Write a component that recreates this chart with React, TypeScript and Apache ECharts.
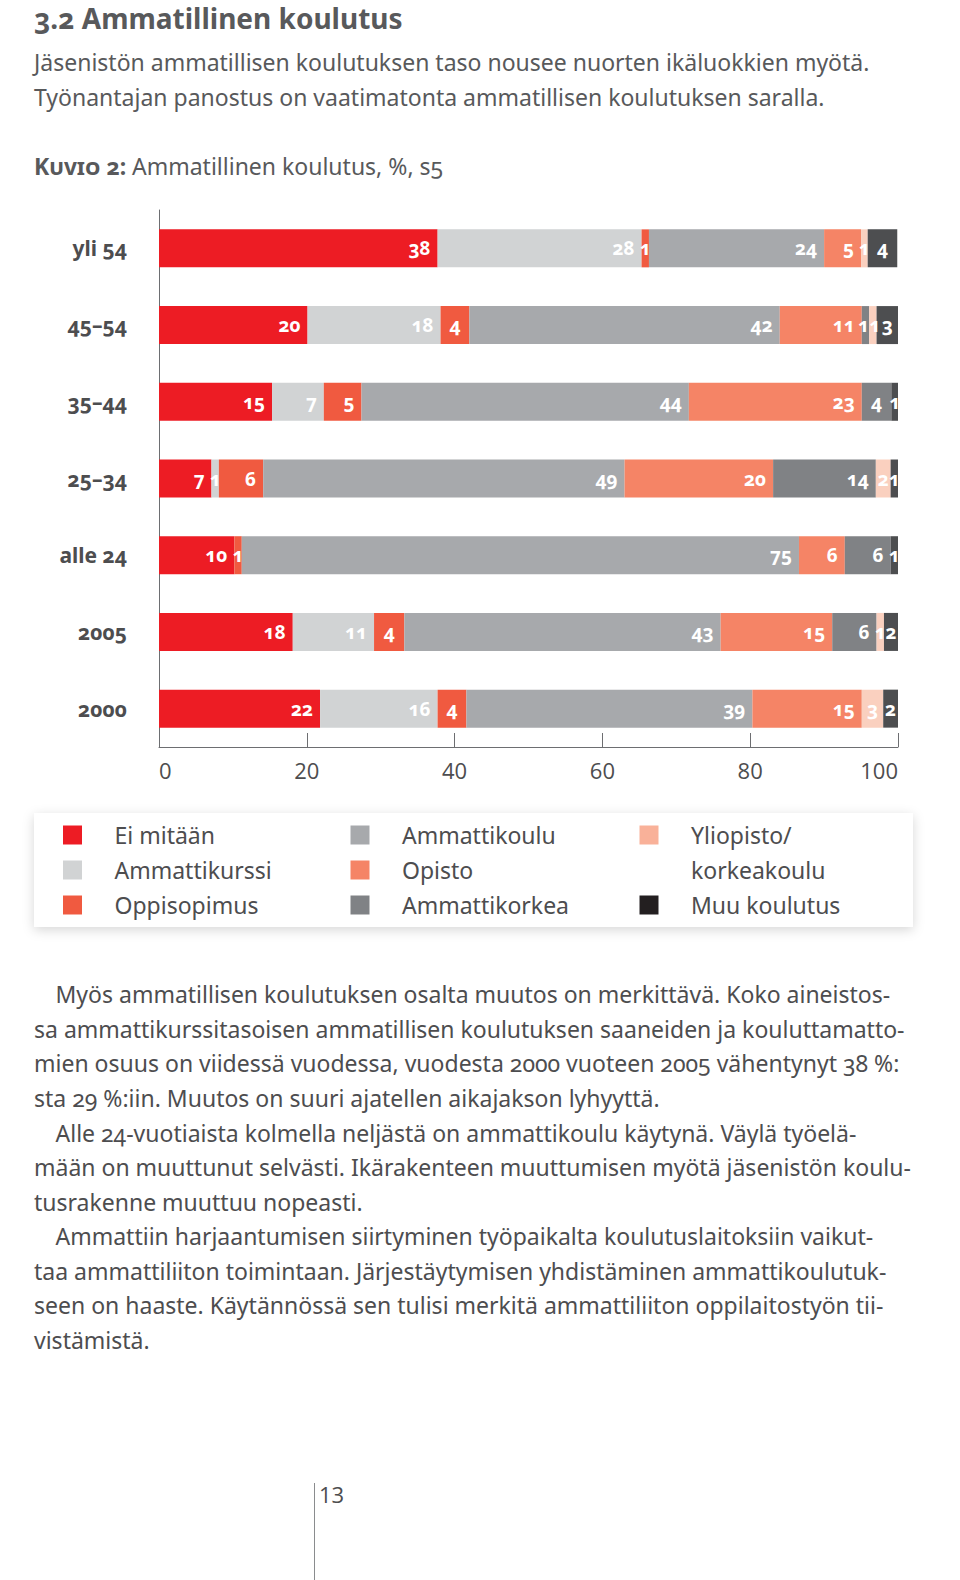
import React, { useEffect, useRef } from "react";
import * as echarts from "echarts";

// ---------- data (shares in %; labels show rounded values) ----------
const categories = ["yli 54", "45–54", "35–44", "25–34", "alle 24", "2005", "2000"];
const seriesNames = [
  "Ei mitään",
  "Ammattikurssi",
  "Oppisopimus",
  "Ammattikoulu",
  "Opisto",
  "Ammattikorkea",
  "Yliopisto/korkeakoulu",
  "Muu koulutus",
];
const eiMitaan = [37.7, 20.1, 15.3, 7.1, 10.2, 18.1, 21.8];
const ammattikurssi = [27.6, 18.0, 7.0, 1.0, 0, 11.0, 15.9];
const oppisopimus = [1.0, 3.9, 5.1, 6.0, 1.0, 4.1, 3.9];
const ammattikoulu = [23.7, 42.0, 44.3, 48.9, 75.4, 42.8, 38.7];
const opisto = [5.0, 11.1, 23.4, 20.1, 6.2, 15.1, 14.8];
const ammattikorkea = [0, 1.0, 4.0, 13.9, 6.2, 6.0, 0];
const yliopisto = [0.9, 1.0, 0, 2.0, 0, 1.0, 2.9];
const muuKoulutus = [4.0, 2.9, 0.9, 1.0, 1.0, 1.9, 2.0];
const xTicks = [0, 20, 40, 60, 80, 100];

const seriesValues = [eiMitaan, ammattikurssi, oppisopimus, ammattikoulu, opisto, ammattikorkea, yliopisto, muuKoulutus];

const barColors = ["#ED1C24", "#D1D3D4", "#F05A40", "#A7A9AC", "#F58466", "#808285", "#FAD0BF", "#4D4E50"];
const legendColors = ["#ED1C24", "#D1D3D4", "#F05A40", "#A7A9AC", "#F58466", "#808285", "#F9B199", "#231F20"];

const legendColumns = [
  ["Ei mitään", "Ammattikurssi", "Oppisopimus"],
  ["Ammattikoulu", "Opisto", "Ammattikorkea"],
  ["Yliopisto/korkeakoulu", "Muu koulutus"],
];

const titleText = "3.2 Ammatillinen koulutus";
const introLines = [
  "Jäsenistön ammatillisen koulutuksen taso nousee nuorten ikäluokkien myötä.",
  "Työnantajan panostus on vaatimatonta ammatillisen koulutuksen saralla.",
];
const captionLead = "Kuvio 2:";
const captionText = "Ammatillinen koulutus, %, s5";
const bodyLines = [
  { t: "Myös ammatillisen koulutuksen osalta muutos on merkittävä. Koko aineistos-", indent: true },
  { t: "sa ammattikurssitasoisen ammatillisen koulutuksen saaneiden ja kouluttamatto-", indent: false },
  { t: "mien osuus on viidessä vuodessa, vuodesta 2000 vuoteen 2005 vähentynyt 38 %:", indent: false },
  { t: "sta 29 %:iin. Muutos on suuri ajatellen aikajakson lyhyyttä.", indent: false },
  { t: "Alle 24-vuotiaista kolmella neljästä on ammattikoulu käytynä. Väylä työelä-", indent: true },
  { t: "mään on muuttunut selvästi. Ikärakenteen muuttumisen myötä jäsenistön koulu-", indent: false },
  { t: "tusrakenne muuttuu nopeasti.", indent: false },
  { t: "Ammattiin harjaantumisen siirtyminen työpaikalta koulutuslaitoksiin vaikut-", indent: true },
  { t: "taa ammattiliiton toimintaan. Järjestäytymisen yhdistäminen ammattikoulutuk-", indent: false },
  { t: "seen on haaste. Käytännössä sen tulisi merkitä ammattiliiton oppilaitostyön tii-", indent: false },
  { t: "vistämistä.", indent: false },
];
const pageNumber = "13";

// ---------- styles ----------
const TEXT = "#4D4D4F";
const AXIS = "#6D6E71";
const FONT = "Noto Sans";

function neighbourValue(row: number, si: number, dir: number) {
  for (let k = si + dir; k >= 0 && k < seriesValues.length; k += dir) {
    const v = seriesValues[k][row];
    if (v > 0) return v;
  }
  return null;
}

function buildOption() {
  const series = seriesNames.map((name, i) => ({
    name,
    type: "bar",
    stack: "total",
    barWidth: 38,
    itemStyle: { color: barColors[i] },
    emphasis: { disabled: true },
    label: {
      show: true,
      color: "#FFFFFF",
      fontFamily: FONT,
      fontWeight: "bold",
      fontSize: 19,
      formatter: (p: any) => (p.value ? String(Math.round(p.value)) : ""),
    },
    data: seriesValues[i].map((v, row) => {
      const small = v <= 4.5;
      let dx = 0;
      if (v > 0 && v < 1.5) {
        const nxt = neighbourValue(row, i, 1);
        const prv = neighbourValue(row, i, -1);
        if (nxt != null && nxt < 1.5) dx = -2;
        else if (prv != null && prv < 1.5) dx = 2;
      }
      return {
        value: v,
        label: { position: small ? "inside" : "insideRight", distance: 7, offset: [dx, 0] },
      };
    }),
  }));

  const legendLefts = [63, 350.5, 639.5];
  const legendTops = [817.5, 817.5, 782.5];
  const legend = legendColumns.map((col, ci) => ({
    orient: "vertical",
    left: legendLefts[ci],
    top: legendTops[ci],
    padding: 0,
    itemGap: 0,
    itemWidth: 19,
    itemHeight: 19,
    icon: "rect",
    selectedMode: false,
    formatter: (name: string) => (name === "Yliopisto/korkeakoulu" ? "\nYliopisto/\nkorkeakoulu" : name),
    textStyle: {
      color: TEXT,
      fontFamily: FONT,
      fontSize: 23,
      lineHeight: 35,
      padding: [0, 0, 0, 27.5],
    },
    data: col.map((name) => ({
      name,
      itemStyle: { color: legendColors[seriesNames.indexOf(name)] },
    })),
  }));

  const graphic: any[] = [
    {
      type: "rect",
      z: 0,
      shape: { x: 34, y: 813, width: 879, height: 114 },
      style: { fill: "#FFFFFF", shadowBlur: 12, shadowColor: "rgba(0,0,0,0.16)", shadowOffsetY: 3 },
    },
    {
      type: "text",
      x: 34,
      y: 17.5,
      style: { text: titleText, fill: "#58595B", fontFamily: FONT, fontWeight: "bold", fontSize: 28, verticalAlign: "middle" },
    },
    ...introLines.map((t, i) => ({
      type: "text",
      x: 34,
      y: 62 + i * 34.5,
      style: { text: t, fill: "#58595B", fontFamily: FONT, fontSize: 23, verticalAlign: "middle" },
    })),
    {
      type: "text",
      x: 34,
      y: 166,
      style: { text: captionLead, fill: "#58595B", fontFamily: FONT + ", zsc", fontWeight: "bold", fontSize: 23, verticalAlign: "middle" },
    },
    {
      type: "text",
      x: 132,
      y: 166,
      style: { text: captionText, fill: "#58595B", fontFamily: FONT, fontSize: 23, verticalAlign: "middle" },
    },
    ...bodyLines.map((l, i) => ({
      type: "text",
      x: l.indent ? 55.5 : 34,
      y: 994.3 + i * 34.55,
      style: { text: l.t, fill: TEXT, fontFamily: FONT, fontSize: 23, verticalAlign: "middle" },
    })),
    {
      type: "line",
      shape: { x1: 314.5, y1: 1483, x2: 314.5, y2: 1580 },
      style: { stroke: "#8A8C8E", lineWidth: 1 },
    },
    {
      type: "text",
      x: 319,
      y: 1494,
      style: { text: pageNumber, fill: TEXT, fontFamily: "Open Sans", fontSize: 22, verticalAlign: "middle" },
    },
  ];

  return {
    animation: false,
    backgroundColor: "#FFFFFF",
    grid: { left: 159, right: 62, top: 210, height: 537, containLabel: false },
    xAxis: {
      type: "value",
      min: 0,
      max: 100,
      interval: 20,
      position: "bottom",
      axisLine: { show: true, lineStyle: { color: AXIS, width: 1 } },
      axisTick: { show: true, inside: true, length: 14, customValues: xTicks, lineStyle: { color: AXIS, width: 1 } },
      splitLine: { show: false },
      axisLabel: {
        customValues: xTicks,
        color: TEXT,
        fontFamily: "Open Sans",
        fontSize: 22,
        margin: 12,
        alignMinLabel: "left",
        alignMaxLabel: "right",
      },
    },
    yAxis: {
      type: "category",
      data: categories,
      inverse: true,
      axisLine: { show: true, lineStyle: { color: AXIS, width: 1 } },
      axisTick: { show: false },
      splitLine: { show: false },
      axisLabel: { color: TEXT, fontFamily: FONT, fontWeight: "bold", fontSize: 21, margin: 32 },
    },
    legend,
    series,
    graphic,
  };
}

export default function App() {
  const ref = useRef<HTMLDivElement>(null);
  useEffect(() => {
    if (!ref.current) return;
    const chart = echarts.init(ref.current, null, { renderer: "svg" });
    chart.setOption(buildOption() as any);
    return () => chart.dispose();
  }, []);
  return (
    <div style={{ position: "absolute", left: 0, top: 0, width: 960, height: 1580, background: "#FFFFFF" }}>
      <style>{`#chart text { font-feature-settings: "onum" 1 !important; }
#chart text[style*="Open Sans"] { font-feature-settings: "lnum" 1 !important; }
#chart text[style*="zsc"] { font-variant-caps: small-caps !important; }`}</style>
      <div id="chart" ref={ref} style={{ width: 960, height: 1580 }} />
    </div>
  );
}
